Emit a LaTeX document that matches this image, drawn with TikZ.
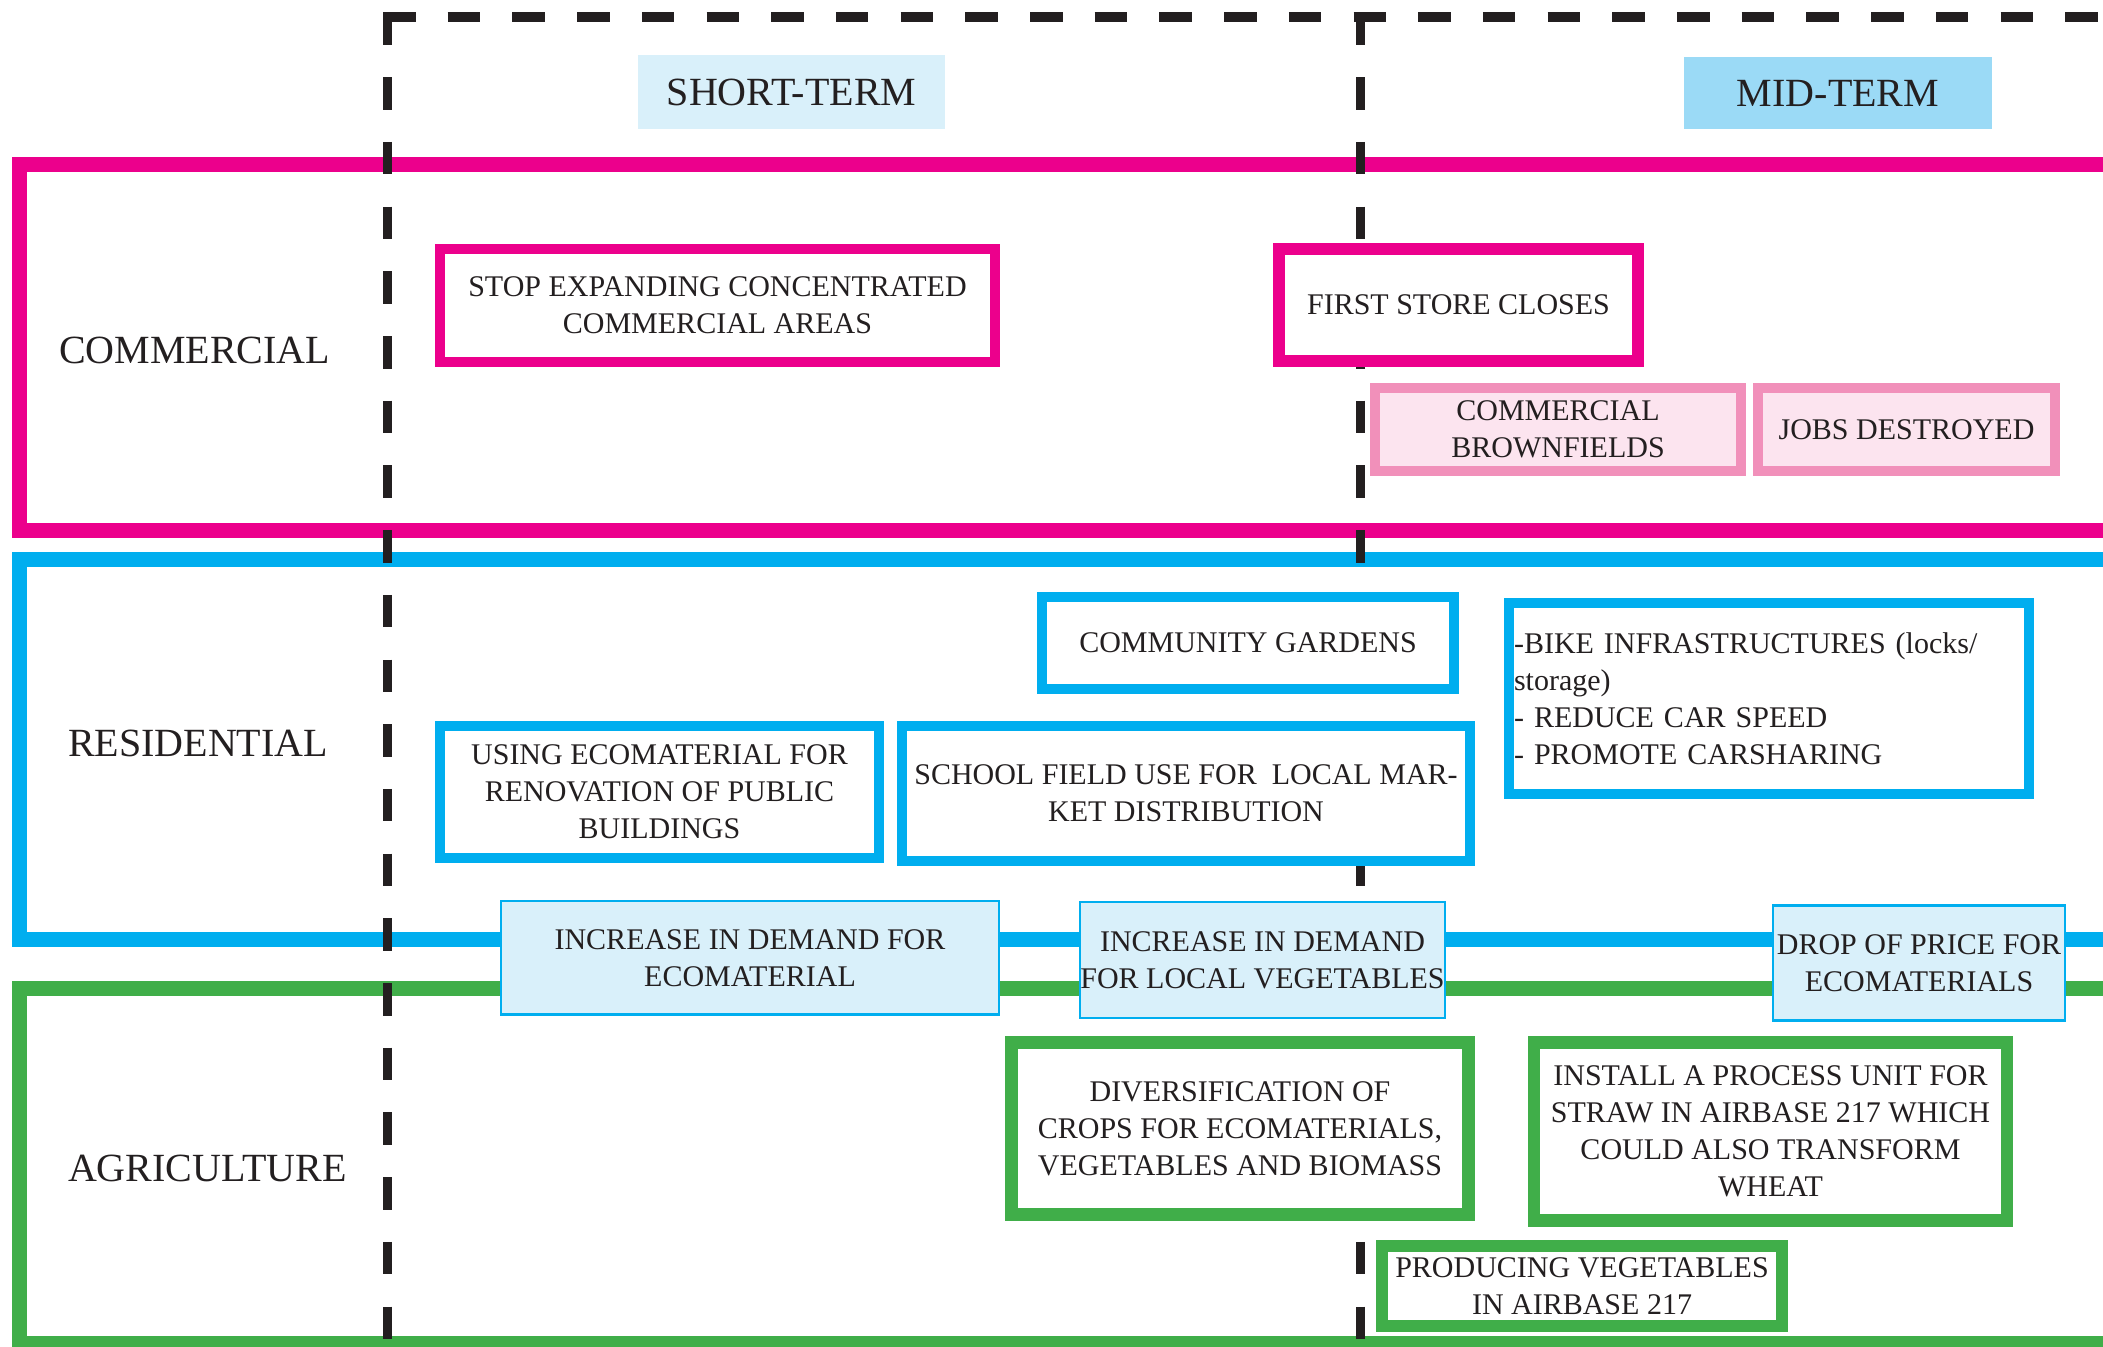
\documentclass[tikz,border=0pt]{standalone}
\usepackage{fontspec}
\setmainfont{Liberation Serif}
\definecolor{ink}{HTML}{231F20}
\definecolor{pinkc}{HTML}{EC008C}
\definecolor{pinklt}{HTML}{F190BA}
\definecolor{pinkbg}{HTML}{FCE4EF}
\definecolor{bluec}{HTML}{00AEEF}
\definecolor{greenc}{HTML}{40AE49}
\definecolor{skylt}{HTML}{D9F0FA}
\definecolor{skymid}{HTML}{9BDAF6}
\tikzset{
  every node/.style={text=ink, inner sep=0pt, outer sep=0pt},
  frame/.style={line width=15pt, line join=miter},
  timeline/.style={draw=ink, line width=9.5pt, dash pattern=on 32.5pt off 32.2pt},
  termbox/.style={rectangle, font=\fontsize{40}{48}\selectfont},
  sector/.style={anchor=west, font=\fontsize{40}{48}\selectfont},
  card/.style={rectangle, align=center, font=\fontsize{30}{37}\selectfont, fill=white, line width=10pt},
  pinkcard/.style={card, draw=pinkc},
  softcard/.style={card, draw=pinklt, fill=pinkbg},
  bluecard/.style={card, draw=bluec},
  greencard/.style={card, draw=greenc, line width=12.5pt},
  linkcard/.style={card, draw=bluec, fill=skylt, line width=2.5pt}
}
\begin{document}
\begin{tikzpicture}[x=1pt,y=-1pt]
\useasboundingbox (0,0) rectangle (2103,1346);
\clip (0,0) rectangle (2103,1346);

% sector frames, open to the right
\draw[frame, draw=pinkc]  (2120,164.5) -| (19,530)    -- (2120,530);
\draw[frame, draw=bluec]  (2120,559)   -| (19,939)    -- (2120,939);
\draw[frame, draw=greenc] (2120,988)   -| (19,1343.5) -- (2120,1343.5);

% time axis: dashed top rule and period separators
\draw[timeline] (387.5,12.5) -- (387.5,1360);
\draw[timeline] (1360.5,12.5) -- (1360.5,1360);
\draw[timeline] (383,17.25) -- (2120,17.25);

% period headers
\node[termbox, fill=skylt, minimum width=307pt, minimum height=74pt] (short) at (791.5,92) {SHORT-TERM};
\node[termbox, fill=skymid, minimum width=308pt, minimum height=72pt] (mid) at (1838,93) {MID-TERM};

% sector names
\node[sector] (com) at (59,350) {COMMERCIAL};
\node[sector] (res) at (68,743) {RESIDENTIAL};
\node[sector] (agr) at (68,1168) {AGRICULTURE};

% commercial
\node[pinkcard, minimum width=555pt, minimum height=113pt] (stop) at (717.5,305.5)
  {STOP EXPANDING CONCENTRATED\\COMMERCIAL AREAS};
\node[pinkcard, line width=12pt, minimum width=359pt, minimum height=112pt] (first) at (1458.5,305)
  {FIRST STORE CLOSES};
\node[softcard, minimum width=366pt, minimum height=83pt] (brown) at (1558,429.5)
  {COMMERCIAL\\BROWNFIELDS};
\node[softcard, minimum width=297pt, minimum height=83pt] (jobs) at (1906.5,429.5)
  {JOBS DESTROYED};

% residential
\node[bluecard, minimum width=412pt, minimum height=92pt] (garden) at (1248,643)
  {COMMUNITY GARDENS};
\node[bluecard, align=left, inner xsep=5pt, text width=510pt, minimum height=191pt] (bike) at (1769,698.5)
  {-BIKE INFRASTRUCTURES (locks/\\storage)\\- REDUCE CAR SPEED\\- PROMOTE CARSHARING};
\node[bluecard, minimum width=568pt, minimum height=135pt] (school) at (1186,793.5)
  {SCHOOL FIELD USE FOR\ \ LOCAL MAR-\\KET DISTRIBUTION};
\node[bluecard, minimum width=439pt, minimum height=132pt] (using) at (659.5,792)
  {USING ECOMATERIAL FOR\\RENOVATION OF PUBLIC\\BUILDINGS};

% links between residential and agriculture
\node[linkcard, minimum width=498pt, minimum height=113.5pt] (demeco) at (750,957.75)
  {INCREASE IN DEMAND FOR\\ECOMATERIAL};
\node[linkcard, minimum width=365pt, minimum height=116pt] (demveg) at (1262.5,960)
  {INCREASE IN DEMAND\\FOR LOCAL VEGETABLES};
\node[linkcard, minimum width=292pt, minimum height=115pt] (drop) at (1919,963)
  {DROP OF PRICE FOR\\ECOMATERIALS};

% agriculture
\node[greencard, minimum width=457pt, minimum height=172pt] (divers) at (1240,1128.5)
  {DIVERSIFICATION OF\\CROPS FOR ECOMATERIALS,\\VEGETABLES AND BIOMASS};
\node[greencard, minimum width=473pt, minimum height=178pt] (install) at (1770.5,1131.5)
  {INSTALL A PROCESS UNIT FOR\\STRAW IN AIRBASE 217 WHICH\\COULD ALSO TRANSFORM\\WHEAT};
\node[greencard, line width=12pt, minimum width=400pt, minimum height=80pt] (produce) at (1582,1286)
  {PRODUCING VEGETABLES\\IN AIRBASE 217};
\end{tikzpicture}
\end{document}
